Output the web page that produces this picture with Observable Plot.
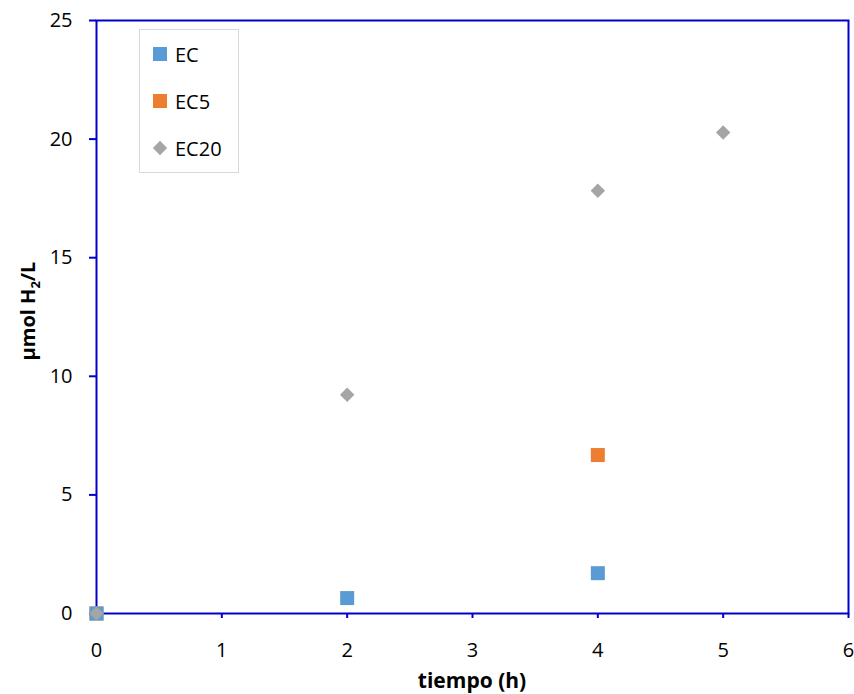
<!DOCTYPE html>
<html>
<head>
<meta charset="utf-8">
<script src="https://cdn.jsdelivr.net/npm/d3@7"></script>
<script src="https://cdn.jsdelivr.net/npm/@observablehq/plot@0.6"></script>
<style>
  html, body { margin: 0; padding: 0; background: #fff; }
  #wrap { position: relative; width: 854px; height: 694px; font-family: "Open Sans", "Liberation Sans", sans-serif; }
  #legend { position: absolute; left: 139px; top: 29px; width: 100px; height: 144px; border: 1px solid #d9d9d9; background: #fff; box-sizing: border-box; }
  .item { position: absolute; left: 13px; height: 24px; display: flex; align-items: center; font-size: 20px; color: #000; }
  .sw { width: 14px; height: 14px; margin-right: 8px; flex: none; }
</style>
</head>
<body>
<div id="wrap"></div>
<script>
const series = ["EC", "EC5", "EC20"];
const colors = ["#5B9BD5", "#ED7D31", "#A5A5A5"];
const symbols = ["square", "square", "diamond2"];
const ecTime = [0, 2, 4];
const ecValues = [0, 0.65, 1.7];
const ec5Time = [0, 4];
const ec5Values = [0, 6.68];
const ec20Time = [0, 2, 4, 5];
const ec20Values = [0, 9.22, 17.82, 20.28];
const xTicks = [0, 1, 2, 3, 4, 5, 6];
const yTicks = [0, 5, 10, 15, 20, 25];
const drawOrder = ["EC5", "EC", "EC20"];

const blue = "#0000CC";
const data = [
  ...ecTime.map((t, i) => ({s: "EC", t, v: ecValues[i]})),
  ...ec5Time.map((t, i) => ({s: "EC5", t, v: ec5Values[i]})),
  ...ec20Time.map((t, i) => ({s: "EC20", t, v: ec20Values[i]}))
];

const chart = Plot.plot({
  width: 854,
  height: 694,
  marginLeft: 96,
  marginRight: 6,
  marginTop: 20,
  marginBottom: 81,
  style: {fontFamily: "'Open Sans', 'Liberation Sans', sans-serif", fontSize: "20px", color: "#000", background: "#fff", overflow: "visible"},
  x: {domain: [0, 6], label: null},
  y: {domain: [0, 25], label: null},
  marks: [
    Plot.frame({stroke: blue, strokeWidth: 2}),
    Plot.axisX({ticks: xTicks, tickFormat: "d", tickSize: 5, tickPadding: 24, stroke: blue, strokeWidth: 2, fill: "#000", fontSize: 20, label: null}),
    Plot.axisY({ticks: yTicks, tickFormat: "d", tickSize: 7, tickPadding: 17, stroke: blue, strokeWidth: 2, fill: "#000", fontSize: 20, label: null}),
    ...drawOrder.map(s => {
      const k = series.indexOf(s);
      return Plot.dot(data.filter(d => d.s === s), {
        x: "t", y: "v",
        symbol: () => symbols[k],
        fill: colors[k],
        stroke: "none",
        r: symbols[k] === "square" ? 7.9 : 6.5
      });
    })
  ]
});

const svg = d3.select(chart);
svg.append("text")
  .attr("x", 472).attr("y", 688)
  .attr("text-anchor", "middle")
  .attr("font-weight", "bold").attr("font-size", 21)
  .attr("fill", "#000")
  .text("tiempo (h)");
const yl = svg.append("text")
  .attr("transform", "translate(35,311) rotate(-90)")
  .attr("text-anchor", "middle")
  .attr("font-weight", "bold").attr("font-size", 20)
  .attr("fill", "#000");
yl.append("tspan").text("μmol H");
yl.append("tspan").attr("font-size", 13).attr("dy", 5).text("2");
yl.append("tspan").attr("dy", -5).text("/L");

const wrap = document.getElementById("wrap");
wrap.appendChild(chart);

const legend = document.createElement("div");
legend.id = "legend";
series.forEach((s, k) => {
  const it = document.createElement("div");
  it.className = "item";
  it.style.top = (12 + k * 47) + "px";
  const sw = document.createElement("div");
  sw.className = "sw";
  sw.style.background = colors[k];
  if (symbols[k] === "diamond2") { sw.style.transform = "rotate(45deg) scale(0.72)"; }
  const lab = document.createElement("span");
  lab.textContent = s;
  it.appendChild(sw); it.appendChild(lab);
  legend.appendChild(it);
});
wrap.appendChild(legend);
</script>
</body>
</html>
